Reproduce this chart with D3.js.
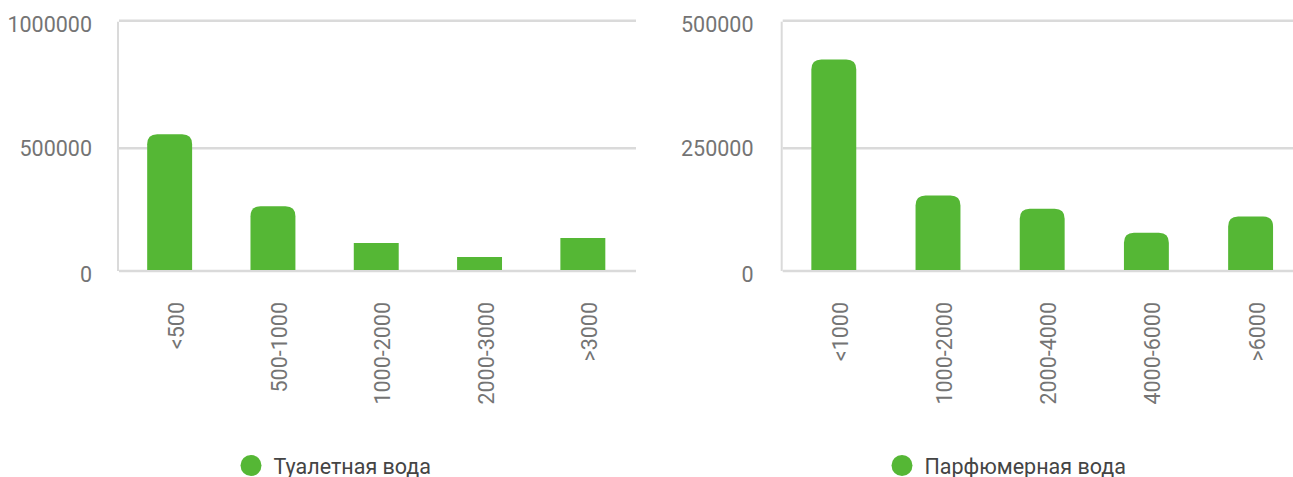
<!DOCTYPE html>
<html><head><meta charset="utf-8">
<script src="https://cdn.jsdelivr.net/npm/d3@7"></script>
<style>
html,body{margin:0;padding:0;background:#fff;}
svg{display:block;font-family:Roboto, "Noto Sans", sans-serif;}
</style></head>
<body><svg id="chart" width="1293" height="477"></svg>
<script>
const leftCategories = ["<500", "500-1000", "1000-2000", "2000-3000", ">3000"];
const leftValues = [555000, 264000, 114000, 57000, 134000];
const leftTicks = [0, 500000, 1000000];
const rightCategories = ["<1000", "1000-2000", "2000-4000", "4000-6000", ">6000"];
const rightValues = [424000, 154000, 127000, 78000, 111000];
const rightTicks = [0, 250000, 500000];
const legendLabels = ["Туалетная вода", "Парфюмерная вода"];

const svg = d3.select("#chart");
const GREEN = "#55b735", GRID = "#dadada";

function panel(cfg) {
  const g = svg.append("g");
  const y = d3.scaleLinear().domain(cfg.ticks).range([271, 148.3, 20.7]);
  const x = d3.scaleBand().domain(cfg.cats).range([cfg.x0, cfg.x0 + cfg.w])
    .paddingInner(cfg.pad).paddingOuter(cfg.pad / 2);
  g.selectAll("line.grid").data(cfg.ticks).join("line")
    .attr("x1", cfg.x0 + 1).attr("x2", cfg.x0 + cfg.gw)
    .attr("y1", d => y(d)).attr("y2", d => y(d))
    .attr("stroke", GRID).attr("stroke-width", 2.4);
  g.append("line").attr("x1", cfg.x0).attr("x2", cfg.x0)
    .attr("y1", y(cfg.ticks[2]) + 1).attr("y2", y(0))
    .attr("stroke", GRID).attr("stroke-width", 2);
  const yOff = [10.5, 8, 11.5];
  g.selectAll("text.yl").data(cfg.ticks).join("text")
    .attr("x", cfg.lx).attr("y", (d, i) => y(d) + yOff[i])
    .attr("text-anchor", "end").attr("fill", "#747474")
    .attr("font-size", 21.5).text(d => d);
  const r = 10;
  g.selectAll("path.bar").data(cfg.vals).join("path")
    .attr("fill", GREEN)
    .attr("d", (d, i) => {
      const bx = x(cfg.cats[i]), bw = x.bandwidth(), top = y(d), bot = y(0) - 1;
      const h = bot - top;
      if (h < 35) return `M${bx},${bot}V${top}H${bx + bw}V${bot}Z`;
      return `M${bx},${bot}V${top + r}Q${bx},${top} ${bx + r},${top}H${bx + bw - r}Q${bx + bw},${top} ${bx + bw},${top + r}V${bot}Z`;
    });
  g.selectAll("text.xl").data(cfg.cats).join("text")
    .attr("transform", d => `translate(${x(d) + x.bandwidth() / 2 + 14},302) rotate(-90)`)
    .attr("text-anchor", "end").attr("fill", "#747474")
    .attr("font-size", 21.5).text(d => d);
  g.append("circle").attr("cx", cfg.legX).attr("cy", 465.5).attr("r", 10.5).attr("fill", GREEN);
  g.append("text").attr("x", cfg.legX + 22.5).attr("y", 473.5)
    .attr("fill", "#444").attr("font-size", 21.5).text(cfg.legend);
}

panel({cats: leftCategories, vals: leftValues, ticks: leftTicks, x0: 118, w: 516.5, gw: 518, pad: 0.565, lx: 92, legX: 251, legend: legendLabels[0]});
panel({cats: rightCategories, vals: rightValues, ticks: rightTicks, x0: 781.7, w: 521, gw: 520, pad: 0.569, lx: 753.5, legX: 902, legend: legendLabels[1]});
</script></body></html>
